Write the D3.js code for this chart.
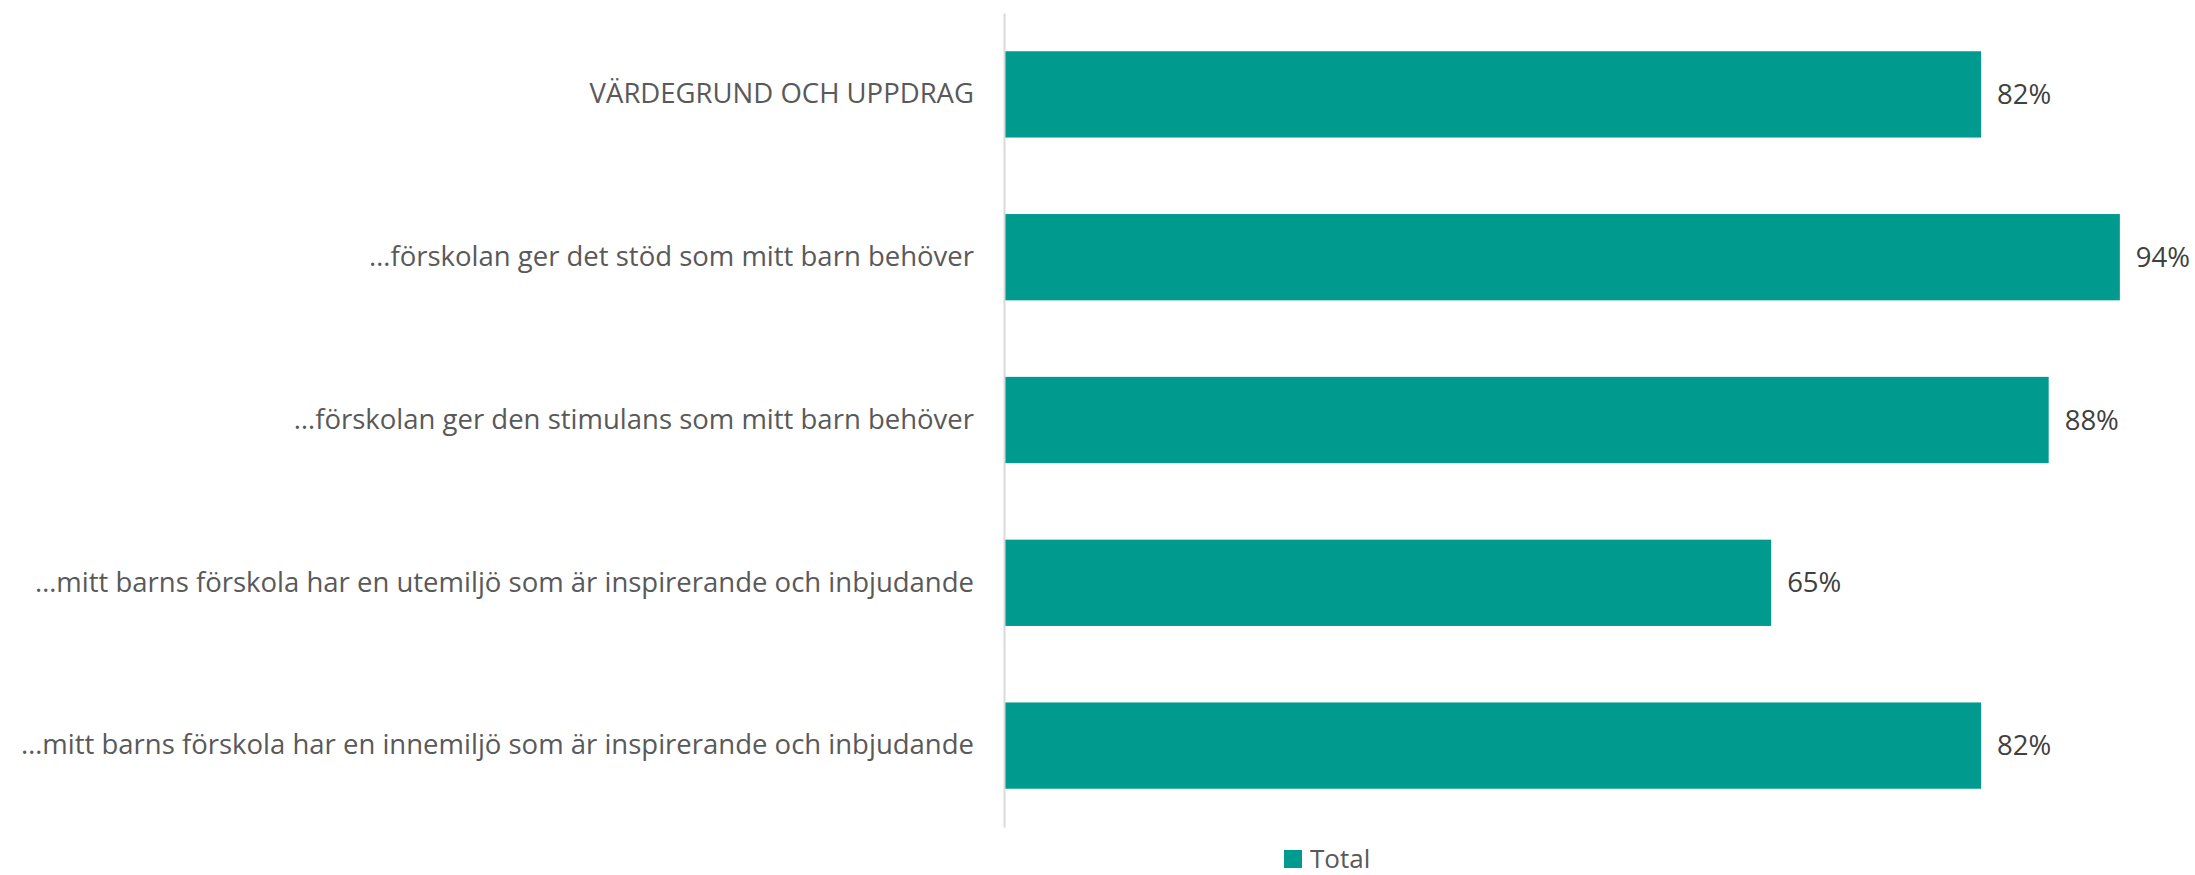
<!DOCTYPE html>
<html>
<head>
<meta charset="utf-8">
<script src="https://cdn.jsdelivr.net/npm/d3@7"></script>
<style>
  body { margin: 0; background: #fff; }
  text { font-family: "Open Sans", sans-serif; }
</style>
</head>
<body>
<div id="chart"></div>
<script>
var categories = [
  "VÄRDEGRUND OCH UPPDRAG",
  "…förskolan ger det stöd som mitt barn behöver",
  "…förskolan ger den stimulans som mitt barn behöver",
  "…mitt barns förskola har en utemiljö som är inspirerande och inbjudande",
  "…mitt barns förskola har en innemiljö som är inspirerande och inbjudande"
];
var totals = [0.823, 0.94, 0.88, 0.646, 0.823];
var seriesName = "Total";

var width = 2195, height = 875;
var margin = {top: 13, right: 4, bottom: 48, left: 1005};

var svg = d3.select("#chart").append("svg")
  .attr("width", width)
  .attr("height", height);

var x = d3.scaleLinear()
  .domain([0, 1])
  .range([margin.left, width - margin.right]);

var y = d3.scaleBand()
  .domain(categories)
  .range([margin.top, height - margin.bottom])
  .paddingInner(0.47)
  .paddingOuter(0.235);

var data = categories.map(function(c, i) { return {cat: c, val: totals[i]}; });

svg.selectAll(".bar")
  .data(data)
  .enter().append("rect")
  .attr("class", "bar")
  .attr("x", x(0))
  .attr("y", function(d) { return y(d.cat); })
  .attr("width", function(d) { return x(d.val) - x(0); })
  .attr("height", y.bandwidth())
  .attr("fill", "#009A8E");

// category axis
var yAxis = svg.append("g")
  .attr("transform", "translate(" + (margin.left - 1) + ",0)")
  .call(d3.axisLeft(y).tickSize(0).tickPadding(30));
yAxis.select(".domain").attr("stroke", "#d9d9d9").attr("stroke-width", 2);
yAxis.selectAll("text")
  .attr("fill", "#595959")
  .style("font-size", "27.5px");

// value labels
svg.selectAll(".val")
  .data(data)
  .enter().append("text")
  .attr("class", "val")
  .attr("x", function(d) { return x(d.val) + 16; })
  .attr("y", function(d) { return y(d.cat) + y.bandwidth() / 2; })
  .attr("dy", "0.35em")
  .attr("fill", "#404040")
  .style("font-size", "27.5px")
  .text(function(d) { return d3.format(".0%")(d.val); });

// legend
var legend = svg.append("g").attr("transform", "translate(1284,850)");
legend.append("rect")
  .attr("width", 18).attr("height", 18)
  .attr("fill", "#009A8E");
legend.append("text")
  .attr("x", 26).attr("y", 18)
  .attr("fill", "#595959")
  .style("font-size", "26px")
  .text(seriesName);
</script>
</body>
</html>
